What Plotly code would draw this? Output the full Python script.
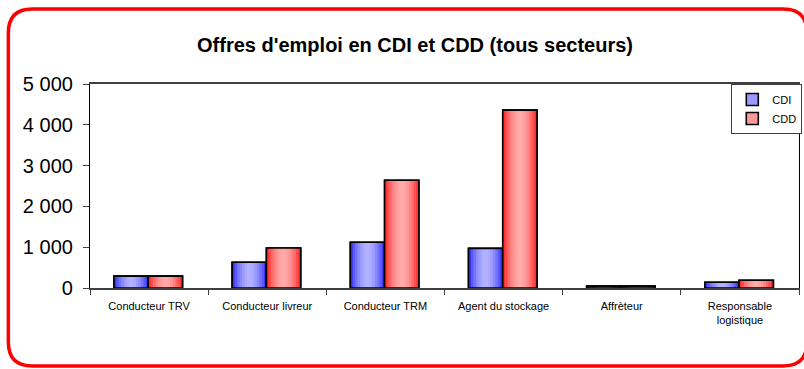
import plotly.graph_objects as go

# Job offers by occupation and contract type
categories = ["Conducteur TRV", "Conducteur livreur", "Conducteur TRM",
              "Agent du stockage", "Affrèteur", "Responsable<br>logistique"]
cdi_values = [290, 630, 1120, 970, 45, 140]
cdd_values = [290, 980, 2640, 4360, 45, 190]
y_ticks = [0, 1000, 2000, 3000, 4000, 5000]

W, H = 804, 369
ML, MR, MT, MB = 90, 2, 84, 81
PW, PH = W - ML - MR, H - MT - MB

BAR_W = 0.29
N_STRIPS = 14


def mix(c1, c2, t):
    return "rgb(%d,%d,%d)" % tuple(round(a + (b - a) * t) for a, b in zip(c1, c2))


series = [
    dict(name="CDI", values=cdi_values, offset=-0.297,
         light=(178, 178, 255), dark=(40, 40, 245), legend="#9999ff"),
    dict(name="CDD", values=cdd_values, offset=-0.007,
         light=(255, 170, 170), dark=(255, 30, 30), legend="#ff9999"),
]

fig = go.Figure()
for s in series:
    # base bar (carries the legend entry)
    fig.add_trace(go.Bar(
        x=categories, y=s["values"], name=s["name"],
        offset=s["offset"], width=BAR_W,
        marker=dict(color=s["legend"], line=dict(color="black", width=1.6)),
        hoverinfo="skip"))
    # vertical strips giving the cylinder-like shading
    sw = BAR_W / N_STRIPS
    for i in range(N_STRIPS):
        u = (i + 0.5) / N_STRIPS
        t = abs(2 * u - 1) ** 1.8
        fig.add_trace(go.Bar(
            x=categories, y=s["values"], showlegend=False,
            offset=s["offset"] + i * sw, width=sw * 1.25 if i < N_STRIPS - 1 else sw,
            marker=dict(color=mix(s["light"], s["dark"], t), line=dict(width=0)),
            hoverinfo="skip"))
    # outline on top
    fig.add_trace(go.Bar(
        x=categories, y=s["values"], showlegend=False,
        offset=s["offset"], width=BAR_W,
        marker=dict(color="rgba(0,0,0,0)", line=dict(color="black", width=1.6)),
        hoverinfo="skip"))


# rounded red frame around the whole chart
def px(x):
    return (x - ML) / PW


def py(y):
    return (H - MB - y) / PH


x0, x1, y0, y1, r = 8, 810, 9, 366, 24
pts = [
    ("M", x0 + r, y0), ("L", x1 - r, y0), ("Q", x1, y0, x1, y0 + r),
    ("L", x1, y1 - r), ("Q", x1, y1, x1 - r, y1), ("L", x0 + r, y1),
    ("Q", x0, y1, x0, y1 - r), ("L", x0, y0 + r), ("Q", x0, y0, x0 + r, y0),
]
path = ""
for p in pts:
    cmd, coords = p[0], p[1:]
    parts = []
    for k in range(0, len(coords), 2):
        parts.append("%.5f,%.5f" % (px(coords[k]), py(coords[k + 1])))
    path += cmd + " ".join(parts) + " "
path += "Z"

fig.add_shape(type="path", path=path, xref="paper", yref="paper",
              line=dict(color="#ff0000", width=3.5), fillcolor="rgba(0,0,0,0)",
              layer="above")

fig.update_layout(
    width=W, height=H,
    margin=dict(l=ML, r=MR, t=MT, b=MB),
    barmode="overlay",
    plot_bgcolor="white", paper_bgcolor="white",
    separators=", ",
    font=dict(family="Arial, Liberation Sans, sans-serif", color="black"),
    title=dict(text="<b>Offres d'emploi en CDI et CDD (tous secteurs)</b>",
               x=415 / W, xref="container", xanchor="center",
               y=1 - 45 / H, yref="container", yanchor="middle",
               font=dict(size=20, color="black")),
    legend=dict(x=(734 - ML) / PW, y=1, xanchor="left", yanchor="top",
                bgcolor="white", bordercolor="#404040", borderwidth=1,
                font=dict(size=11), itemwidth=30, tracegroupgap=2,
                traceorder="normal"),
    xaxis=dict(type="category", tickson="boundaries", ticks="outside",
               ticklen=5, tickcolor="#404040", showline=True, linecolor="#404040",
               linewidth=1.5, mirror=True, showgrid=False,
               tickfont=dict(size=11), ticklabelstandoff=7),
    yaxis=dict(range=[0, 5000], tickvals=y_ticks, tickformat=",d",
               ticks="outside", ticklen=6, tickcolor="#404040",
               showline=True, linecolor="black", linewidth=1.2, mirror=True,
               showgrid=False, zeroline=False,
               tickfont=dict(size=20), ticklabelstandoff=6),
    showlegend=True,
)

fig.write_html("out.html")
